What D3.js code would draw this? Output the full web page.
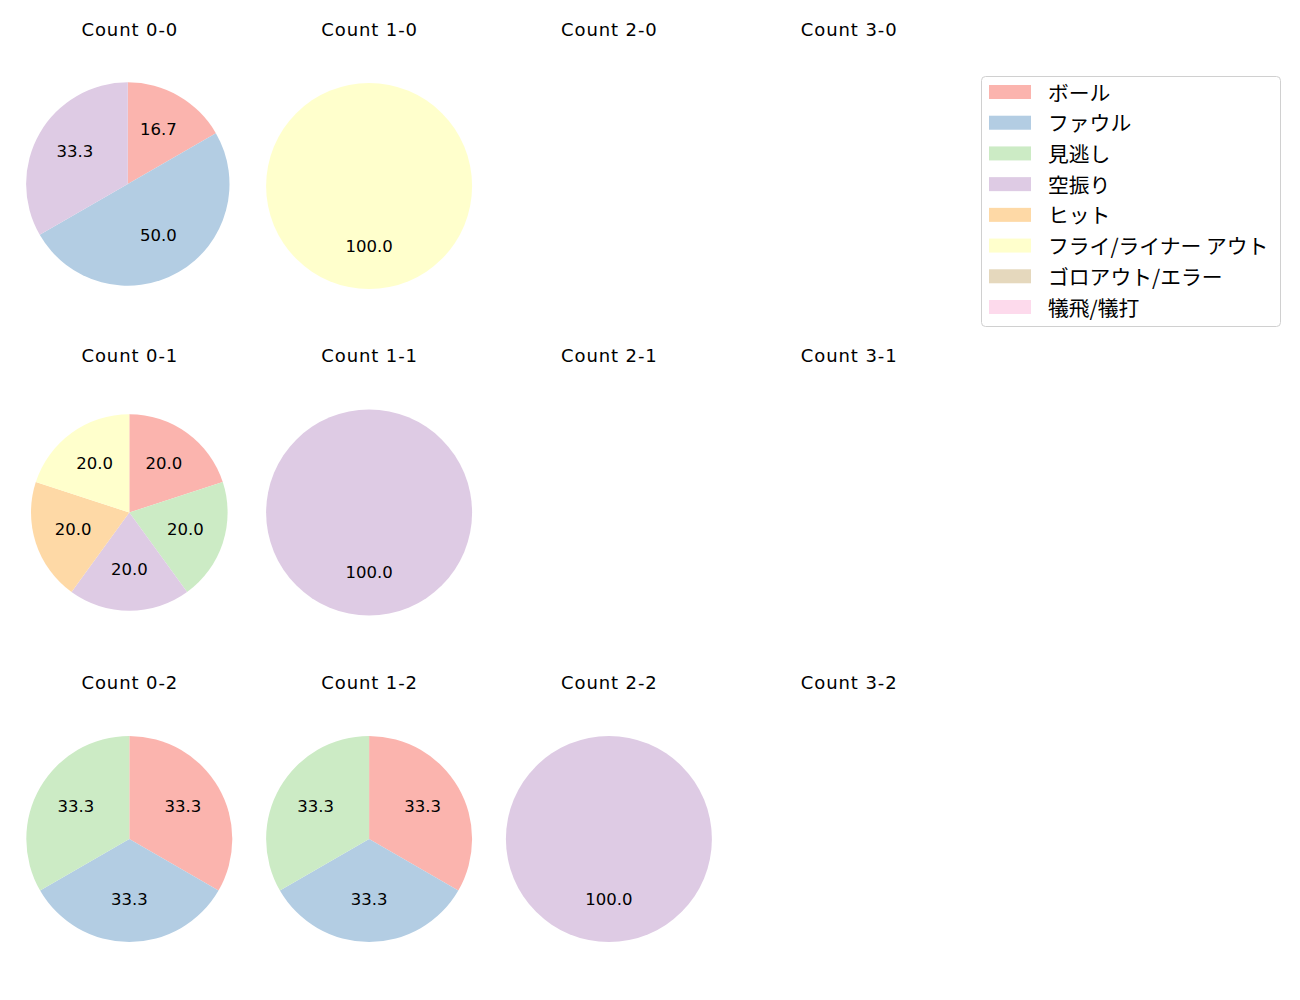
<!DOCTYPE html>
<html><head><meta charset="utf-8">
<script src="https://cdn.jsdelivr.net/npm/d3@7"></script>
<style>body{margin:0;background:#fff;}</style>
</head><body>
<svg id="c" width="1300" height="1000"></svg>
<script>
const categories = ["ボール","ファウル","見逃し","空振り","ヒット","フライ/ライナー アウト","ゴロアウト/エラー","犠飛/犠打"];
const colors = ["#fbb4ae","#b3cde3","#ccebc5","#decbe4","#fed9a6","#ffffcc","#e5d8bd","#fddaec"];
const balls = [0,1,2,3];
const strikes = [0,1,2];
// counts per category, per panel "balls-strikes"
const count_0_0 = [1,3,0,2,0,0,0,0];
const count_1_0 = [0,0,0,0,0,1,0,0];
const count_2_0 = [];
const count_3_0 = [];
const count_0_1 = [1,0,1,1,1,1,0,0];
const count_1_1 = [0,0,0,1,0,0,0,0];
const count_2_1 = [];
const count_3_1 = [];
const count_0_2 = [1,1,1,0,0,0,0,0];
const count_1_2 = [1,1,1,0,0,0,0,0];
const count_2_2 = [0,0,0,1,0,0,0,0];
const count_3_2 = [];
const panels = {
  "0-0":count_0_0,"1-0":count_1_0,"2-0":count_2_0,"3-0":count_3_0,
  "0-1":count_0_1,"1-1":count_1_1,"2-1":count_2_1,"3-1":count_3_1,
  "0-2":count_0_2,"1-2":count_1_2,"2-2":count_2_2,"3-2":count_3_2
};

// layout (not data): small per-panel adjustments of pie geometry
const layoutAdj = {"0-0": {dx:-1.5, dy:-2, r:101.7}, "0-1": {dx:0, dy:0, r:98.3}};

const LATIN = "'DejaVu Sans','Noto Sans CJK JP',sans-serif";
const svg = d3.select("#c");
const colX = d3.scalePoint().domain(balls).range([129.3, 848.7]);
const rowY = d3.scalePoint().domain(strikes).range([186, 839]);
const pie = d3.pie().sort(null).value(d => d.v).startAngle(0).endAngle(2*Math.PI);

strikes.forEach(s => {
  balls.forEach(b => {
    const key = b + "-" + s;
    const vals = panels[key];
    const cx0 = colX(b), cy0 = rowY(s);
    svg.append("text").attr("x", cx0 + 0.5).attr("y", cy0 - 150.5)
      .attr("text-anchor","middle").style("font-family", LATIN)
      .attr("font-size", 18).attr("letter-spacing", "0.9px").attr("fill","#000").text("Count " + key);
    if (!vals.length) return;
    const adj = layoutAdj[key] || {dx:0, dy:0, r:103};
    const cx = cx0 + adj.dx, cy = cy0 + adj.dy, R = adj.r;
    const data = vals.map((v,i) => ({v, i})).filter(d => d.v > 0);
    const total = d3.sum(data, d => d.v);
    const g = svg.append("g").attr("transform", `translate(${cx},${cy})`);
    const arc = d3.arc().innerRadius(0).outerRadius(R);
    const lab = d3.arc().innerRadius(R*0.6).outerRadius(R*0.6);
    const arcs = pie(data);
    g.selectAll("path").data(arcs).join("path")
      .attr("d", arc).attr("fill", d => colors[d.data.i]);
    g.selectAll("text").data(arcs).join("text")
      .attr("transform", d => { const c = lab.centroid(d); return `translate(${c[0]},${c[1]-1.5})`; })
      .attr("text-anchor","middle").attr("dominant-baseline","central")
      .style("font-family", LATIN)
      .attr("font-size", 16.5).attr("fill","#000")
      .text(d => (d.data.v/total*100).toFixed(1));
  });
});

// legend
const lg = svg.append("g");
lg.append("rect").attr("x",981.5).attr("y",76.5).attr("width",299).attr("height",250)
  .attr("rx",4).attr("fill","#fff").attr("stroke","#d0d0d0");
const ly = d3.scaleLinear().domain([0, categories.length-1]).range([92, 307]);
categories.forEach((c,i) => {
  lg.append("rect").attr("x",989).attr("y",ly(i)-7).attr("width",42).attr("height",14).attr("fill",colors[i]);
  lg.append("text").attr("x",1048).attr("y",ly(i) - 0.5).attr("dominant-baseline","central")
    .style("font-family","'Noto Sans CJK JP',sans-serif")
    .attr("font-size",20.8).attr("fill","#000").text(c);
});
</script>
</body></html>
